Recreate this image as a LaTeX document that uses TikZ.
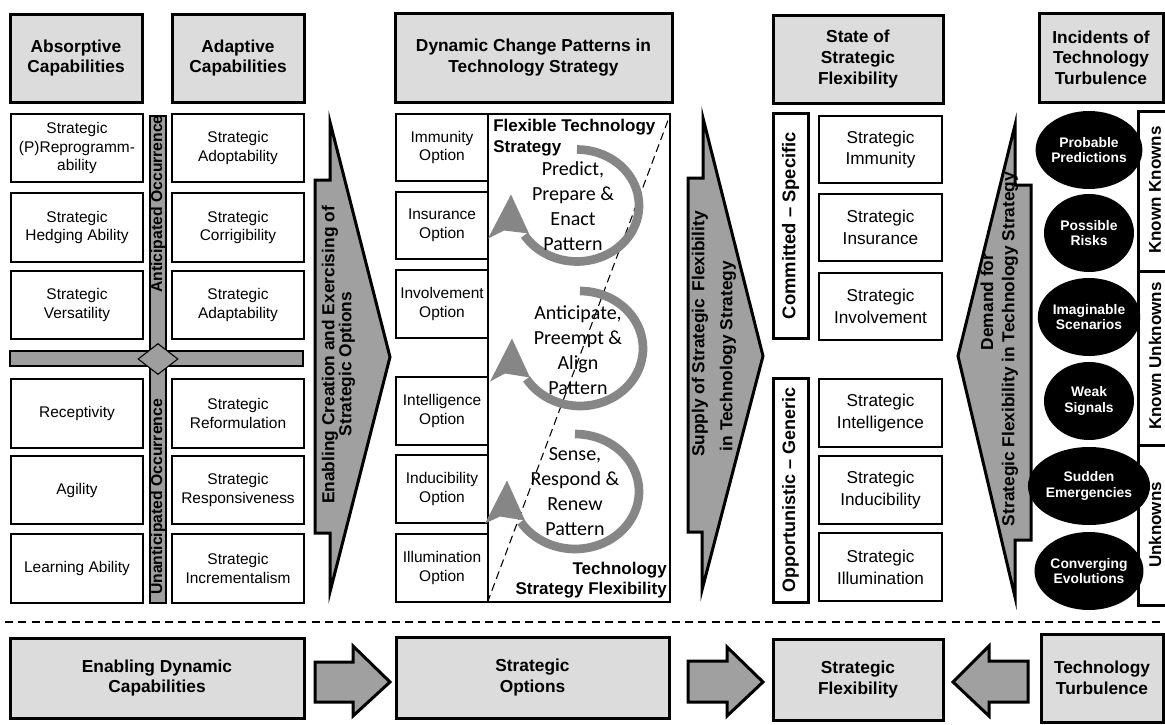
\documentclass[tikz,border=0pt]{standalone}
\usepackage{fontspec}
\setmainfont{Liberation Sans}
\newfontfamily\carlito{Carlito}
\usetikzlibrary{shapes.geometric}
\newcommand\fsz[2]{\fontsize{#1}{#2}\selectfont}
\definecolor{hdrgray}{RGB}{220,220,220}
\definecolor{arrgray}{RGB}{160,160,160}
\definecolor{arcgray}{RGB}{134,134,134}
\definecolor{bargray}{RGB}{158,158,158}
\begin{document}
\begin{tikzpicture}[x=0.75pt,y=-0.75pt,
  wh/.style 2 args={minimum width={(#1)*0.75pt}, minimum height={(#2)*0.75pt}},
  hdr/.style={draw, line width=2.25pt, fill=hdrgray, inner sep=0pt, align=center, font=\bfseries\fsz{13}{15.5}},
  cell/.style={draw, line width=0.9pt, fill=white, inner sep=0pt, align=center, font=\fsz{11.6}{14}},
  bigcell/.style={cell, font=\fsz{12.9}{16.3}},
  frame/.style={draw, line width=2.25pt, fill=white, inner sep=0pt},
  bar/.style={draw, line width=0.8pt, fill=bargray, inner sep=0pt},
  rot/.style={rotate=90, inner sep=0pt, align=center},
  blob/.style={ellipse, fill=black, text=white, inner sep=0pt, minimum width=67.5pt, minimum height=58.5pt, align=center, font=\bfseries\fsz{10.4}{11.5}},
  bigarrow/.style={draw, line width=2.25pt, fill=arrgray, line join=miter},
  loop/.style={arcgray, line width=6.5pt},
  looptext/.style={align=center, inner sep=0pt, font=\carlito\fsz{15}{18.75}},
]
\useasboundingbox (0,0) rectangle (1165,725);
\fill[white] (0,0) rectangle (1165,725);

% ---------- column headers ----------
\node[hdr, wh={132}{88}] (hAbs) at (76,58) {Absorptive\\Capabilities};
\node[hdr, wh={132}{88}] (hAda) at (238,58) {Adaptive\\Capabilities};
\node[hdr, wh={277}{89}] (hDyn) at (533.5,57.5) {Dynamic Change Patterns in\\Technology Strategy};
\node[hdr, wh={170}{88}] (hSta) at (858,59) {State of\\Strategic\\Flexibility};
\node[hdr, wh={124}{89}] (hInc) at (1101,57.5) {Incidents of\\Technology\\Turbulence};

% ---------- capability cells ----------
\node[cell, wh={132}{68}] (a1) at (77,148) {Strategic\\(P)Reprogramm-\\ability};
\node[cell, wh={132}{69}] (a2) at (77,227.5) {Strategic\\Hedging Ability};
\node[cell, wh={132}{68}] (a3) at (77,305) {Strategic\\Versatility};
\node[cell, wh={132}{69}] (a4) at (77,413.5) {Receptivity};
\node[cell, wh={132}{68}] (a5) at (77,490) {Agility};
\node[cell, wh={132}{69}] (a6) at (77,568.5) {Learning Ability};

\node[cell, wh={132}{68}] (d1) at (238,148) {Strategic\\Adoptability};
\node[cell, wh={132}{69}] (d2) at (238,227.5) {Strategic\\Corrigibility};
\node[cell, wh={132}{68}] (d3) at (238,305) {Strategic\\Adaptability};
\node[cell, wh={132}{69}] (d4) at (238,413.5) {Strategic\\Reformulation};
\node[cell, wh={132}{68}] (d5) at (238,490) {Strategic\\Responsiveness};
\node[cell, wh={132}{69}] (d6) at (238,568.5) {Strategic\\Incrementalism};

% ---------- occurrence cross ----------
\node[bar, wh={16}{487}] (vbar) at (158,359.5) {};
\node[bar, wh={293}{15}] (hbar) at (156.5,358.5) {};
\node[diamond, draw, line width=0.8pt, fill=bargray, inner sep=0pt, minimum width=30pt, minimum height=23.25pt] (dia) at (158,359) {};
\node[rot, font=\bfseries\fsz{11.8}{13}] (antT) at (158,204) {Anticipated Occurrence};
\node[rot, font=\bfseries\fsz{11.8}{13}] (unaT) at (158,497) {Unanticipated Occurrence};

% ---------- arrow: enabling ----------
\draw[bigarrow] (330,122) -- (390,357) -- (330,592) -- (330,533) -- (315,533) -- (315,180) -- (330,180) -- cycle;
\node[rot, font=\bfseries\fsz{13}{15}] (enA) at (330,355) {Enabling Creation and Exercising of};
\node[rot, font=\bfseries\fsz{13}{15}] (enB) at (347,364) {Strategic Options};

% ---------- options ----------
\node[cell, wh={92}{67}] (o1) at (442,147.5) {Immunity\\Option};
\node[cell, wh={92}{67}] (o2) at (442,225.5) {Insurance\\Option};
\node[cell, wh={92}{68}] (o3) at (442,304) {Involvement\\Option};
\node[cell, wh={92}{68}] (o4) at (442,411) {Intelligence\\Option};
\node[cell, wh={92}{68}] (o5) at (442,489) {Inducibility\\Option};
\node[cell, wh={92}{68}] (o6) at (442,568) {Illumination\\Option};

\node[cell, wh={182}{488}] (panel) at (579,358) {};
\draw[line width=0.8pt, dash pattern=on 6pt off 3.5pt] (panel.south west) -- (panel.north east);
\node[anchor=west, align=left, inner sep=0pt, font=\bfseries\fsz{12.75}{15.75}] (flexT) at (493,137.5) {Flexible Technology\\Strategy};
\node[anchor=east, align=right, inner sep=0pt, font=\bfseries\fsz{12.75}{15}] (tsfT) at (667,580) {Technology\\Strategy Flexibility};

% ---------- change loops ----------
\begin{scope}[shift={(577,205.5)}]
  \draw[loop] plot[domain=-148:90, samples=60] ({62*cos(\x)},{-56*sin(\x)});
  \fill[arcgray] (-66,-11) -- (-89,33) -- (-73,25) -- (-48,28) -- cycle;
\end{scope}
\begin{scope}[shift={(580,348.5)}]
  \draw[loop] plot[domain=-148:90, samples=60] ({63*cos(\x)},{-57.5*sin(\x)});
  \fill[arcgray] (-68,-10) -- (-90,33) -- (-75,25) -- (-50,29) -- cycle;
\end{scope}
\begin{scope}[shift={(575,491.5)}]
  \draw[loop] plot[domain=-148:90, samples=60] ({64*cos(\x)},{-57.5*sin(\x)});
  \fill[arcgray] (-68,-11) -- (-90,32) -- (-75,25) -- (-50,29) -- cycle;
\end{scope}
\node[looptext] (l1) at (573,206) {Predict,\\Prepare \&\\Enact\\Pattern};
\node[looptext] (l2) at (578,350) {Anticipate,\\Preempt \&\\Align\\Pattern};
\node[looptext] (l3) at (575,492) {Sense,\\Respond \&\\Renew\\Pattern};

% ---------- arrow: supply ----------
\draw[bigarrow] (703,118) -- (763,356) -- (702,590) -- (702,532) -- (688,532) -- (688,178) -- (703,178) -- cycle;
\node[rot, font=\bfseries\fsz{13}{15}] (suA) at (700,334) {Supply of Strategic\ \,Flexibility};
\node[rot, font=\bfseries\fsz{13}{15}] (suB) at (728,356) {in Technology Strategy};

% ---------- state of flexibility ----------
\node[frame, wh={35}{225}] (cs) at (790.5,225.5) {};
\node[rot, font=\bfseries\fsz{13.8}{15}] (csT) at (cs.center) {Committed – Specific};
\node[frame, wh={35}{224}] (og) at (790.5,490) {};
\node[rot, font=\bfseries\fsz{13.5}{15}] (ogT) at (og.center) {Opportunistic – Generic};

\node[bigcell, wh={123}{67}] (s1) at (880.5,149.5) {Strategic\\Immunity};
\node[bigcell, wh={123}{67}] (s2) at (880.5,227.5) {Strategic\\Insurance};
\node[bigcell, wh={123}{67}] (s3) at (880.5,306.5) {Strategic\\Involvement};
\node[bigcell, wh={123}{68}] (s4) at (880.5,413) {Strategic\\Intelligence};
\node[bigcell, wh={123}{68}] (s5) at (880.5,490) {Strategic\\Inducibility};
\node[bigcell, wh={123}{68}] (s6) at (880.5,567) {Strategic\\Illumination};

% ---------- arrow: demand ----------
\draw[bigarrow] (1015,125) -- (958,356) -- (1015,597) -- (1015,540) -- (1031,540) -- (1031,185) -- (1015,185) -- cycle;
\node[rot, font=\bfseries\fsz{13}{15}] (deA) at (987,302) {Demand for};
\node[rot, font=\bfseries\fsz{13}{15}] (deB) at (1010,349) {Strategic Flexibility in Technology Strategy};

% ---------- turbulence incidents ----------
\node[blob] (c1) at (1089,150) {Probable\\Predictions};
\node[blob] (c2) at (1089,233) {Possible\\Risks};
\node[blob] (c3) at (1089,317) {Imaginable\\Scenarios};
\node[blob] (c4) at (1089,401) {Weak\\Signals};
\node[blob] (c5) at (1089,486) {Sudden\\Emergencies};
\node[blob] (c6) at (1089,571) {Converging\\Evolutions};

\coordinate (bTop) at (1138,111);
\coordinate (bBot) at (1138,605);
\draw[line width=2.25pt, line join=miter] (1170,111) -- (bTop) -- (bBot) -- (1170,605);
\draw[line width=2.25pt] (1138,271) -- (1170,271);
\draw[line width=2.25pt] (1138,445) -- (1170,445);
\node[rot, font=\bfseries\fsz{12.75}{14}] (kk) at (1155,190) {Known Knowns};
\node[rot, font=\bfseries\fsz{12.75}{14}] (ku) at (1155,356) {Known Unknowns};
\node[rot, font=\bfseries\fsz{12.75}{14}] (uu) at (1155,525) {Unknowns};

% ---------- separator ----------
\coordinate (sepL) at (5,622);
\coordinate (sepR) at (1165,622);
\draw[line width=1pt, dash pattern=on 6pt off 4pt] (sepL) -- (sepR);

% ---------- summary row ----------
\node[hdr, wh={294}{80}] (bDyn) at (157,678) {Enabling Dynamic\\Capabilities};
\node[hdr, wh={273}{81}] (bOpt) at (532.5,677.5) {Strategic\\Options};
\node[hdr, wh={170}{81}] (bFlx) at (858,679.5) {Strategic\\Flexibility};
\node[hdr, wh={122}{88}] (bTur) at (1102,678) {Technology\\Turbulence};

\draw[bigarrow] (315,662) -- (353,662) -- (353,646) -- (390,682) -- (353,716) -- (353,702) -- (315,702) -- cycle;
\draw[bigarrow] (688,661) -- (727,661) -- (727,647) -- (763,682) -- (727,716) -- (727,702) -- (688,702) -- cycle;
\draw[bigarrow] (1028,661) -- (989,661) -- (989,646) -- (953,682) -- (989,716) -- (989,702) -- (1028,702) -- cycle;
\end{tikzpicture}
\end{document}
